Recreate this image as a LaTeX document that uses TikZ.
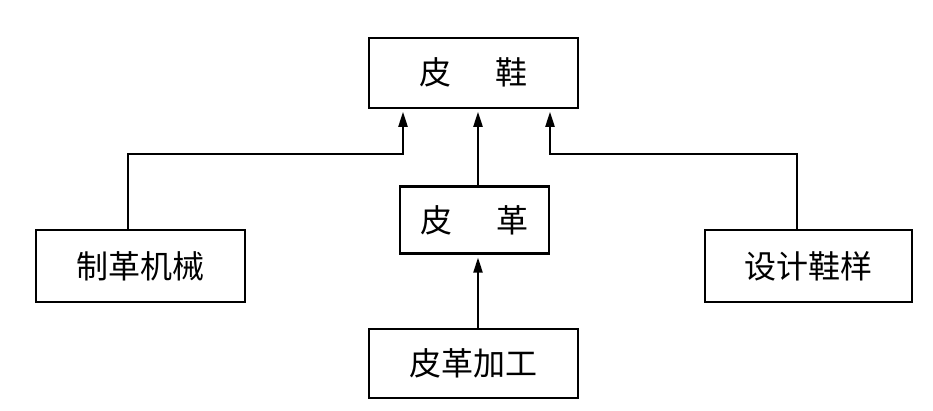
\documentclass[tikz,border=0pt]{standalone}
\usepackage{fontspec}
\newfontfamily\cjk{Noto Sans CJK SC}
\usetikzlibrary{arrows.meta,calc}
\begin{document}
\begin{tikzpicture}[x=1pt,y=-1pt,
  boxstyle/.style={draw,line width=2.1pt,rectangle,inner sep=0pt,font=\cjk\fontsize{32}{32}\selectfont},
  arr/.style={line width=2.1pt,-{Triangle[length=15pt,width=9pt]},shorten >=3pt}]
\useasboundingbox (0,0) rectangle (933,410);
\node[boxstyle,minimum width=209pt,minimum height=70pt] (top) at (473.5,72.7) {皮\hspace{1.4em}鞋};
\node[boxstyle,minimum width=149pt,minimum height=67pt] (mid) at (474.5,220) {皮\hspace{1.4em}革};
\node[boxstyle,minimum width=209pt,minimum height=72pt] (left) at (140.5,266) {制革机械};
\node[boxstyle,minimum width=207pt,minimum height=72pt] (right) at (808.5,266) {设计鞋样};
\node[boxstyle,minimum width=209pt,minimum height=69pt] (bot) at (473.5,363.5) {皮革加工};
\coordinate (jl) at (403,154);
\coordinate (jr) at (550,154);
\draw[arr] ([xshift=-12.5pt]left.north) |- (jl) -- (jl |- top.south);
\draw[arr] ([xshift=-11.8pt]right.north) |- (jr) -- (jr |- top.south);
\draw[arr] ([xshift=3.5pt]mid.north) -- ([xshift=4.5pt]top.south);
\draw[arr] ([xshift=4.5pt]bot.north) -- ([xshift=3.5pt]mid.south);
\end{tikzpicture}
\end{document}
